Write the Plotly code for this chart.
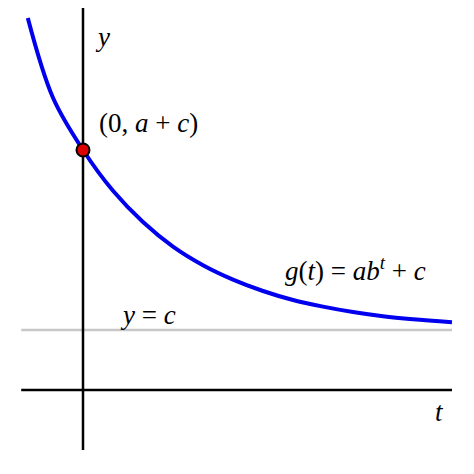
import plotly.graph_objects as go

# values (g(t) = a*b^t + c with a=3, c=1)
t_vals = [-0.92, -0.5, 0, 0.5, 1, 1.5, 2, 2.5, 3, 3.5, 4, 4.5, 5, 5.5, 6.15]
g_vals = [6.2, 4.87, 4.0, 3.32, 2.8, 2.39, 2.08, 1.84, 1.65, 1.50, 1.39, 1.30, 1.23, 1.18, 1.13]
c_val = 1
point = (0, 4)

serif = "Liberation Serif, DejaVu Serif, serif"

fig = go.Figure()
# asymptote
fig.add_trace(go.Scatter(x=[-1.03, 6.15], y=[c_val, c_val], mode="lines",
                         line=dict(color="#c8c8c8", width=2.5), hoverinfo="skip"))
# axes
fig.add_trace(go.Scatter(x=[-1.03, 6.15], y=[0, 0], mode="lines",
                         line=dict(color="black", width=2.5), hoverinfo="skip"))
fig.add_trace(go.Scatter(x=[0, 0], y=[-1.0, 6.5], mode="lines",
                         line=dict(color="black", width=2.5), hoverinfo="skip"))
# curve
fig.add_trace(go.Scatter(x=t_vals, y=g_vals, mode="lines", line_shape="spline",
                         line=dict(color="#0000ee", width=4), hoverinfo="skip"))
# intercept point
fig.add_trace(go.Scatter(x=[point[0]], y=[point[1]], mode="markers",
                         marker=dict(color="#dd0000", size=13,
                                     line=dict(color="black", width=2))))

labels = [
    (0.33, 5.88, "<i>y</i>"),
    (5.95, -0.37, "<i>t</i>"),
    (1.1, 4.45, "(0, <i>a</i> + <i>c</i>)"),
    (4.55, 2.02, "<i>g</i>(<i>t</i>) = <i>ab<sup>t</sup></i> + <i>c</i>"),
    (1.08, 1.25, "<i>y</i> = <i>c</i>"),
]
for x, y, txt in labels:
    fig.add_annotation(x=x, y=y, text=txt, showarrow=False,
                       font=dict(family=serif, size=27, color="black"))

fig.update_layout(
    width=466, height=466, margin=dict(l=0, r=0, t=0, b=0),
    paper_bgcolor="white", plot_bgcolor="white", showlegend=False,
    xaxis=dict(range=[-1.25, 6.517], visible=False),
    yaxis=dict(range=[-1.4, 6.367], visible=False),
)
fig.write_html("out.html")
